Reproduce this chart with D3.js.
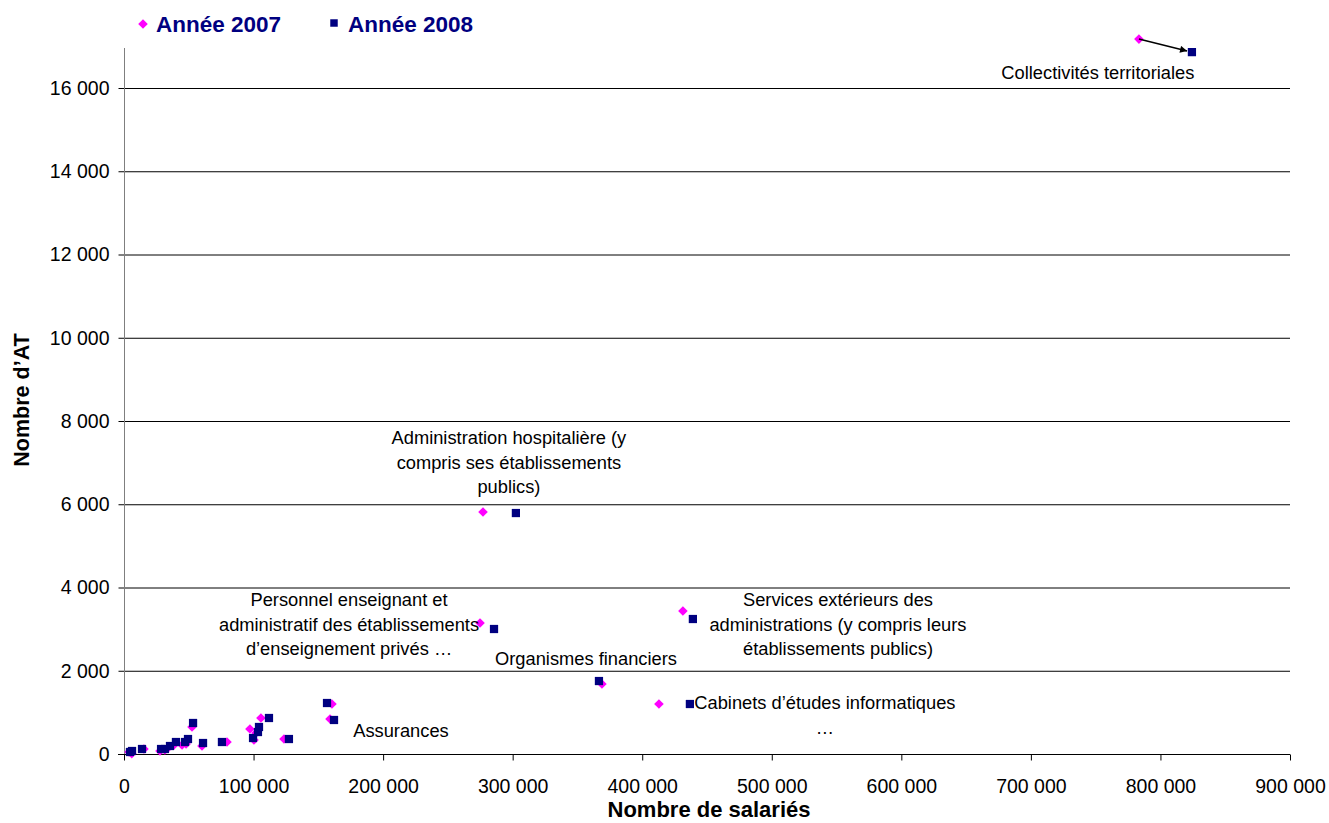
<!DOCTYPE html>
<html><head><meta charset="utf-8">
<script src="https://cdn.jsdelivr.net/npm/d3@7"></script>
<style>
body{margin:0;background:#fff}
svg{display:block}
text{font-family:"Liberation Sans",Arial,sans-serif}
</style>
</head><body>
<svg id="c" width="1329" height="823"></svg>
<script>
// ---- data ----
const seriesNames = ["Année 2007", "Année 2008"];
const sal2007 = [783400, 277100, 274800, 431400, 368900, 412900, 160500, 159000, 105700, 97200, 101900, 100300, 123500, 79500, 60200, 52500, 47900, 44800, 38600, 34000, 27800, 31600, 15400, 6000, 3900];
const at2007  = [17175, 5813, 3147, 3435, 1681, 1201, 1201, 841, 865, 600, 504, 336, 360, 288, 192, 649, 240, 216, 216, 144, 72, 96, 120, 10, 48];
const sal2008 = [824300, 302500, 285600, 439100, 366600, 436800, 156700, 162100, 111900, 104200, 103400, 99600, 127300, 75600, 61000, 53300, 49400, 47100, 40100, 35500, 28600, 31600, 13900, 6200, 4600];
const at2008  = [16862, 5789, 3003, 3243, 1753, 1201, 1225, 817, 865, 649, 528, 384, 360, 288, 264, 745, 360, 288, 288, 192, 120, 120, 120, 72, 48];
const xTicks = [0, 100000, 200000, 300000, 400000, 500000, 600000, 700000, 800000, 900000];
const yTicks = [0, 2000, 4000, 6000, 8000, 10000, 12000, 14000, 16000];
const xTitle = "Nombre de salariés";
const yTitle = "Nombre d’AT";
// annotation texts and their anchors (data units)
const labelLines = [
  ["Collectivités territoriales"],
  ["Administration hospitalière (y", "compris ses établissements", "publics)"],
  ["Personnel enseignant et", "administratif des établissements", "d’enseignement privés …"],
  ["Organismes financiers"],
  ["Services extérieurs des", "administrations (y compris leurs", "établissements publics)"],
  ["Cabinets d’études informatiques", "…"],
  ["Assurances"]
];
const labelSal = [751700, 297100, 173700, 356600, 551100, 541000, 213800];
const labelAT  = [16382, 7590, 3699, 2282, 3699, 1225, 552];

// ---- chart ----
const svg = d3.select("#c");
const x = d3.scaleLinear().domain([0, 900000]).range([124, 1290]);
const y = d3.scaleLinear().domain([0, 16000]).range([754, 88]);
const fmt = d3.formatLocale({thousands: " ", grouping: [3], decimal: ","}).format(",d");
const pink = "#FF00FF", navy = "#000080";

// gridlines
svg.append("g").selectAll("line").data(yTicks.filter(d => d > 0)).join("line")
  .attr("x1", x(0)).attr("x2", x(900000))
  .attr("y1", d => y(d) + 0.5).attr("y2", d => y(d) + 0.5)
  .attr("stroke", "#000").attr("stroke-width", 1);

// y axis
const ya = svg.append("g").attr("transform", `translate(${x(0) + 0.5},0)`)
  .call(d3.axisLeft(y).tickValues(yTicks).tickFormat(fmt).tickSize(6).tickPadding(9));
ya.select(".domain").remove();
ya.append("line").attr("x1", 0).attr("x2", 0).attr("y1", 48).attr("y2", y(0) + 6).attr("stroke", "#7f7f7f");
ya.selectAll(".tick line").attr("stroke", "#000");
ya.selectAll("text").attr("font-size", 19.5).attr("fill", "#000")
  .style("font-family", '"Liberation Sans",Arial,sans-serif');

// x axis
const xa = svg.append("g").attr("transform", `translate(0,${y(0) + 0.5})`)
  .call(d3.axisBottom(x).tickValues(xTicks).tickFormat(fmt).tickSize(6).tickPadding(19).tickSizeOuter(0));
xa.select(".domain").attr("d", `M${x(0) - 6},0H${x(900000)}`).attr("stroke", "#000");
xa.selectAll(".tick line").attr("stroke", "#000");
xa.selectAll("text").attr("font-size", 19.5).attr("fill", "#000")
  .style("font-family", '"Liberation Sans",Arial,sans-serif');

// axis titles
svg.append("text").attr("x", 709).attr("y", 817).attr("text-anchor", "middle")
  .attr("font-size", 22).attr("font-weight", "bold").text(xTitle);
svg.append("text").attr("transform", "translate(29,400) rotate(-90)").attr("text-anchor", "middle")
  .attr("font-size", 21.5).attr("font-weight", "bold").text(yTitle);

// arrow marker
svg.append("defs").append("marker").attr("id", "arr")
  .attr("viewBox", "0 0 10 10").attr("refX", 10).attr("refY", 5)
  .attr("markerWidth", 9).attr("markerHeight", 7).attr("markerUnits", "userSpaceOnUse")
  .attr("orient", "auto")
  .append("path").attr("d", "M0,0L10,5L0,10Z").attr("fill", "#000");

const diamond = d3.symbol().type(d3.symbolSquare).size(46);
const square = d3.symbol().type(d3.symbolSquare).size(68);

// 2007 series
svg.append("g").selectAll("path").data(sal2007.map((s, i) => [s, at2007[i]])).join("path")
  .attr("d", diamond).attr("fill", pink)
  .attr("transform", d => `translate(${x(d[0])},${y(d[1])}) rotate(45)`);

// arrow from 2007 to 2008 (first category)
{
  const x1 = x(sal2007[0]), y1 = y(at2007[0]), x2 = x(sal2008[0]), y2 = y(at2008[0]);
  const dx = x2 - x1, dy = y2 - y1, L = Math.hypot(dx, dy);
  svg.append("line").attr("x1", x1).attr("y1", y1)
    .attr("x2", x2 - dx / L * 5).attr("y2", y2 - dy / L * 5)
    .attr("stroke", "#000").attr("stroke-width", 1.5).attr("marker-end", "url(#arr)");
}

// 2008 series
svg.append("g").selectAll("path").data(sal2008.map((s, i) => [s, at2008[i]])).join("path")
  .attr("d", square).attr("fill", navy)
  .attr("transform", d => `translate(${x(d[0])},${y(d[1])})`);

// annotations
labelLines.forEach((lines, i) => {
  const t = svg.append("text").attr("text-anchor", "middle").attr("font-size", 18.3).attr("fill", "#000");
  lines.forEach((ln, j) => {
    t.append("tspan").attr("x", x(labelSal[i])).attr("y", y(labelAT[i]) + j * 24.5).attr("dy", "0.35em").text(ln);
  });
});

// legend
const lg = svg.append("g");
lg.append("path").attr("d", diamond).attr("fill", pink).attr("transform", "translate(143,24) rotate(45)");
lg.append("text").attr("x", 156).attr("y", 32).attr("font-size", 22.5).attr("font-weight", "bold").attr("fill", navy).text(seriesNames[0]);
lg.append("path").attr("d", d3.symbol().type(d3.symbolSquare).size(56)).attr("fill", navy).attr("transform", "translate(334,23)");
lg.append("text").attr("x", 348).attr("y", 32).attr("font-size", 22.5).attr("font-weight", "bold").attr("fill", navy).text(seriesNames[1]);
</script>
</body></html>
